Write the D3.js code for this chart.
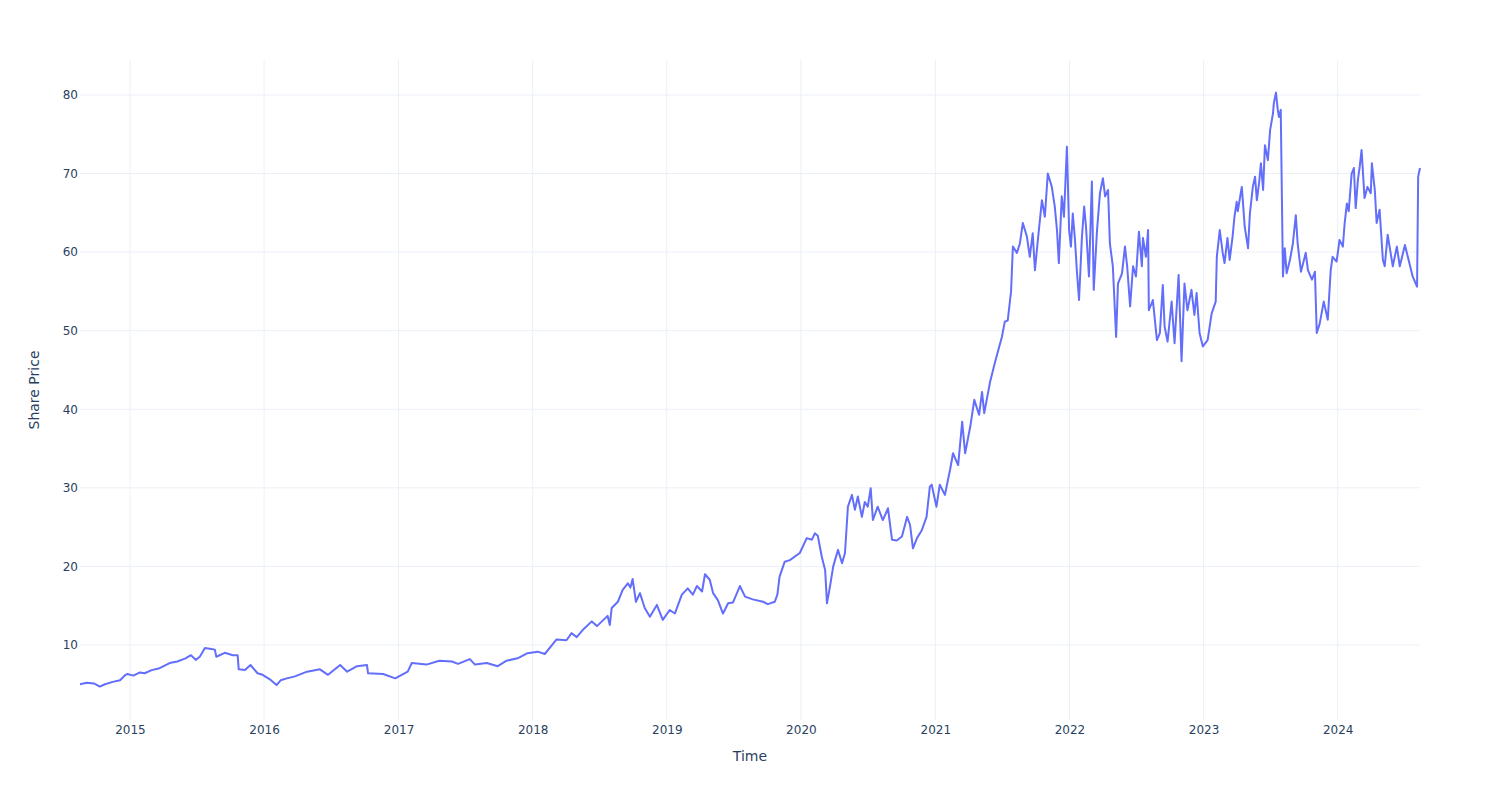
<!DOCTYPE html>
<html>
<head>
<meta charset="utf-8">
<script src="https://cdn.jsdelivr.net/npm/d3@7/dist/d3.min.js"></script>
<style>
  html, body { margin: 0; padding: 0; background: #fff; }
  svg { display: block; font-family: "DejaVu Sans", Verdana, sans-serif; }
</style>
</head>
<body>
<svg id="chart" width="1500" height="800"></svg>
<script>
const dates = [
"2014-08-18","2014-09-05","2014-09-25","2014-10-11","2014-10-25","2014-11-15","2014-12-05","2014-12-20","2014-12-25",
"2015-01-10","2015-01-28","2015-02-10","2015-03-01","2015-03-20","2015-04-19","2015-05-10","2015-06-01","2015-06-16","2015-06-29",
"2015-07-10","2015-07-24","2015-08-10","2015-08-20","2015-08-24","2015-09-16","2015-10-08","2015-10-21","2015-10-24","2015-11-10",
"2015-11-25","2015-12-14","2015-12-28","2016-01-19","2016-02-04","2016-02-15","2016-03-03","2016-03-25","2016-04-27","2016-06-01",
"2016-06-23","2016-07-26","2016-08-14","2016-09-10","2016-10-07","2016-10-10","2016-11-20","2016-12-23","2017-01-26","2017-02-06",
"2017-03-18","2017-04-22","2017-05-26","2017-06-12","2017-07-14","2017-07-28","2017-08-29","2017-09-28","2017-10-22","2017-11-21",
"2017-12-18","2018-01-15","2018-02-03","2018-03-07","2018-04-03","2018-04-17","2018-05-01","2018-05-17","2018-06-11","2018-06-25",
"2018-07-24","2018-07-30","2018-08-04","2018-08-21","2018-09-03","2018-09-17","2018-09-24","2018-09-30","2018-10-09","2018-10-20",
"2018-11-02","2018-11-16","2018-12-05","2018-12-21","2019-01-09","2019-01-23","2019-02-11","2019-02-27","2019-03-13","2019-03-24",
"2019-04-07","2019-04-15","2019-04-28","2019-05-07","2019-05-20","2019-06-03","2019-06-17","2019-06-30","2019-07-19","2019-08-02",
"2019-08-23","2019-09-20","2019-10-03","2019-10-22","2019-10-29","2019-11-04","2019-11-18","2019-12-02","2019-12-29","2020-01-17",
"2020-01-31","2020-02-08","2020-02-16","2020-02-27","2020-03-07","2020-03-12","2020-03-20","2020-03-29","2020-04-11","2020-04-22",
"2020-04-30","2020-05-08","2020-05-19","2020-05-27","2020-06-04","2020-06-15","2020-06-23","2020-07-01","2020-07-09","2020-07-15",
"2020-07-28","2020-08-11","2020-08-25","2020-09-05","2020-09-18","2020-10-02","2020-10-16","2020-10-24","2020-11-01","2020-11-12",
"2020-11-25","2020-12-08","2020-12-17","2020-12-22","2021-01-04","2021-01-13","2021-01-27","2021-02-10","2021-02-18","2021-03-04",
"2021-03-15","2021-03-23","2021-04-06","2021-04-17","2021-04-30","2021-05-08","2021-05-14","2021-05-30","2021-06-13","2021-07-01",
"2021-07-09","2021-07-17","2021-07-26","2021-07-31","2021-08-11","2021-08-19","2021-08-27","2021-09-07","2021-09-15","2021-09-23",
"2021-09-29","2021-10-07","2021-10-18","2021-10-26","2021-11-03","2021-11-14","2021-11-22","2021-11-28","2021-12-03","2021-12-11",
"2021-12-17","2021-12-25","2021-12-31","2022-01-05","2022-01-10","2022-01-16","2022-01-21","2022-01-27","2022-02-04","2022-02-10",
"2022-02-15","2022-02-23","2022-03-03","2022-03-08","2022-03-17","2022-03-25","2022-04-02","2022-04-08","2022-04-16","2022-04-21",
"2022-04-29","2022-05-08","2022-05-13","2022-05-24","2022-06-01","2022-06-07","2022-06-15","2022-06-23","2022-07-01","2022-07-09",
"2022-07-17","2022-07-20","2022-07-28","2022-08-03","2022-08-05","2022-08-16","2022-08-27","2022-09-04","2022-09-12","2022-09-17",
"2022-09-25","2022-10-06","2022-10-14","2022-10-25","2022-11-02","2022-11-10","2022-11-18","2022-11-29","2022-12-07","2022-12-13",
"2022-12-21","2022-12-30","2023-01-12","2023-01-23","2023-02-03","2023-02-06","2023-02-14","2023-02-22","2023-02-27","2023-03-07",
"2023-03-13","2023-03-21","2023-03-26","2023-04-01","2023-04-04","2023-04-15","2023-04-23","2023-05-02","2023-05-07","2023-05-15",
"2023-05-21","2023-05-26","2023-06-01","2023-06-06","2023-06-12","2023-06-17","2023-06-25","2023-07-01","2023-07-09","2023-07-11",
"2023-07-17","2023-07-22","2023-07-25","2023-07-30","2023-08-05","2023-08-10","2023-08-15","2023-08-24","2023-09-01","2023-09-09",
"2023-09-14","2023-09-23","2023-10-06","2023-10-12","2023-10-23","2023-10-31","2023-11-05","2023-11-13","2023-11-24","2023-12-05",
"2023-12-13","2023-12-18","2023-12-29","2024-01-06","2024-01-15","2024-01-20","2024-01-26","2024-01-31","2024-02-08","2024-02-14",
"2024-02-19","2024-02-25","2024-03-01","2024-03-06","2024-03-14","2024-03-22","2024-03-31","2024-04-03","2024-04-11","2024-04-16",
"2024-04-24","2024-05-03","2024-05-08","2024-05-16","2024-05-30","2024-06-10","2024-06-18","2024-07-02","2024-07-13","2024-07-23",
"2024-08-04","2024-08-07","2024-08-12"
];
const prices = [
5.0,5.2,5.1,4.7,5.0,5.3,5.5,6.2,6.3,
6.1,6.5,6.4,6.8,7.0,7.7,7.9,8.3,8.7,8.1,
8.5,9.6,9.5,9.4,8.5,9.0,8.7,8.7,6.9,6.8,
7.45,6.4,6.2,5.55,4.9,5.5,5.75,6.0,6.6,6.9,
6.2,7.45,6.6,7.3,7.45,6.4,6.3,5.75,6.6,7.7,
7.5,8.0,7.9,7.6,8.2,7.5,7.7,7.3,8.0,8.3,
8.95,9.15,8.85,10.7,10.6,11.5,11.0,11.9,13.0,12.4,
13.7,12.55,14.7,15.5,17.0,17.85,17.3,18.4,15.5,16.6,
14.7,13.6,15.1,13.2,14.45,14.0,16.4,17.2,16.4,17.5,
16.8,19.0,18.3,16.6,15.7,14.0,15.3,15.4,17.5,16.15,
15.8,15.5,15.2,15.5,16.4,18.7,20.6,20.8,21.7,23.6,
23.4,24.2,23.9,21.2,19.55,15.3,17.4,20.0,22.1,20.4,
21.7,27.6,29.1,27.2,28.9,26.3,28.2,27.6,29.95,25.9,
27.6,25.9,27.4,23.4,23.3,23.8,26.3,25.3,22.3,23.6,
24.6,26.3,30.15,30.4,27.6,30.4,29.1,32.3,34.4,32.9,
38.4,34.4,37.8,41.2,39.3,42.2,39.5,43.5,46.1,49.2,
51.15,51.3,55.0,60.7,59.9,61.1,63.7,62.0,59.4,62.4,
57.7,61.55,66.6,64.5,70.0,68.3,65.8,62.8,58.6,67.1,
64.5,73.4,62.8,60.7,64.9,61.55,57.7,53.9,62.0,65.8,
63.2,56.9,69.0,55.2,62.8,67.5,69.4,67.1,67.9,61.1,
58.2,49.2,56.0,57.3,60.7,58.2,53.1,58.2,56.9,62.6,
58.2,61.8,59.4,62.8,52.6,53.9,48.8,49.7,55.8,50.5,
48.6,53.7,48.4,57.1,46.1,56.0,52.6,55.2,52.0,54.8,
49.7,48.0,48.8,52.2,53.7,59.4,62.8,59.9,58.6,61.8,
59.0,62.0,64.5,66.4,65.2,68.3,63.2,60.5,64.9,68.3,
69.6,66.6,68.8,71.3,67.9,73.6,71.7,75.5,77.7,78.9,
80.3,78.1,77.2,78.1,56.9,60.5,57.3,59.0,61.1,64.7,
61.1,57.5,59.9,57.7,56.5,57.5,49.7,50.9,53.7,51.4,
57.7,59.4,58.8,61.55,60.7,63.7,66.2,65.2,70.0,70.7,
65.6,69.2,70.9,73.0,66.9,68.3,67.5,71.3,67.9,63.7,
65.4,59.0,58.2,62.2,58.2,60.7,58.2,60.9,58.8,56.9,
55.6,69.6,70.7
];
const yTicks = [10, 20, 30, 40, 50, 60, 70, 80];
const xTickYears = [2015, 2016, 2017, 2018, 2019, 2020, 2021, 2022, 2023, 2024];
const xTitle = "Time";
const yTitle = "Share Price";

const parse = d3.utcParse("%Y-%m-%d");
const data = dates.map((d, i) => ({ date: parse(d), value: prices[i] }));

const svg = d3.select("#chart");
const mLeft = 80, mRight = 1420, mTop = 60, mBottom = 720;
const textColor = "#2a3f5f", gridColor = "#ebf0f8";

const x = d3.scaleUtc().domain(d3.extent(data, d => d.date)).range([mLeft, mRight]);
const y = d3.scaleLinear().domain([0.45, 84.45]).range([mBottom, mTop]);

const xTickDates = xTickYears.map(yr => new Date(Date.UTC(yr, 0, 1)));

// grid
const grid = svg.append("g");
grid.selectAll("line.vx").data(xTickDates).enter().append("line")
  .attr("x1", d => x(d)).attr("x2", d => x(d))
  .attr("y1", mTop).attr("y2", mBottom)
  .attr("stroke", gridColor).attr("stroke-width", 1);
grid.selectAll("line.hy").data(yTicks).enter().append("line")
  .attr("x1", mLeft).attr("x2", mRight)
  .attr("y1", d => y(d)).attr("y2", d => y(d))
  .attr("stroke", gridColor).attr("stroke-width", 1);

// axes
const xAxis = d3.axisBottom(x).tickValues(xTickDates).tickFormat(d3.utcFormat("%Y")).tickSize(0).tickPadding(5);
const gx = svg.append("g").attr("transform", `translate(0,${mBottom})`).call(xAxis);
gx.select(".domain").remove();
gx.selectAll("text").attr("fill", textColor).style("font-size", "12px").style("font-family", "'DejaVu Sans', Verdana, sans-serif");

const yAxis = d3.axisLeft(y).tickValues(yTicks).tickSize(0).tickPadding(2);
const gy = svg.append("g").attr("transform", `translate(${mLeft},0)`).call(yAxis);
gy.select(".domain").remove();
gy.selectAll("text").attr("fill", textColor).style("font-size", "12px").style("font-family", "'DejaVu Sans', Verdana, sans-serif");

// line
const line = d3.line().x(d => x(d.date)).y(d => y(d.value));
svg.append("path").datum(data)
  .attr("d", line)
  .attr("fill", "none")
  .attr("stroke", "#636efa")
  .attr("stroke-width", 2)
  .attr("stroke-linejoin", "round");

// titles
svg.append("text").attr("x", (mLeft + mRight) / 2).attr("y", 761)
  .attr("text-anchor", "middle").attr("fill", textColor).style("font-size", "14px")
  .text(xTitle);
svg.append("text").attr("transform", `translate(39,390) rotate(-90)`)
  .attr("text-anchor", "middle").attr("fill", textColor).style("font-size", "14px")
  .text(yTitle);
</script>
</body>
</html>
